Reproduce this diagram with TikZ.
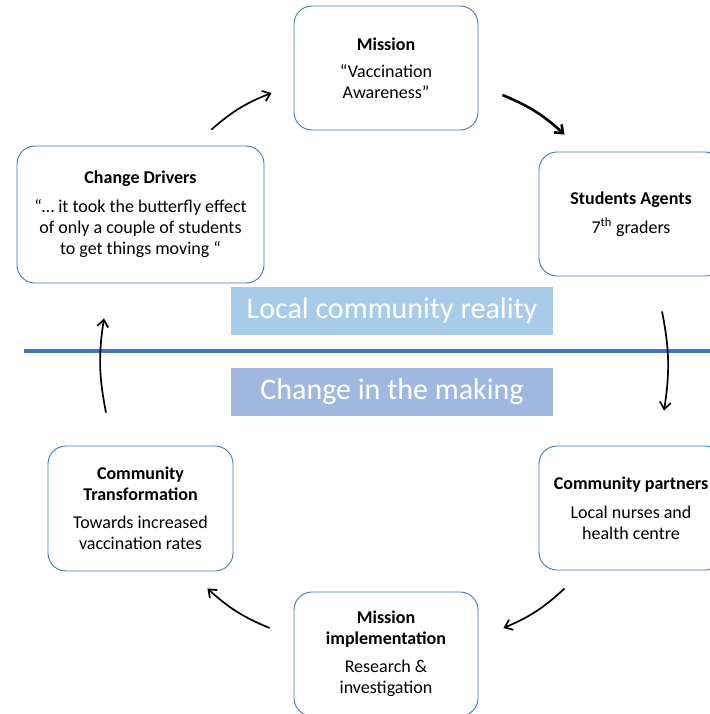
\documentclass[tikz,border=0pt]{standalone}
\usepackage{fontspec}
\setmainfont{Carlito}
\usetikzlibrary{arrows.meta}

\definecolor{boxblue}{HTML}{4472C4}
\definecolor{realityblue}{HTML}{A8CBEA}
\definecolor{makingblue}{HTML}{A0B8E0}

\tikzset{
	stagebox/.style={draw=boxblue, line width=0.9pt, rounded corners=18pt,
		align=center, font=\fontsize{18}{21}\selectfont, inner sep=0pt},
	band/.style={fill=#1, text=white, minimum width=322pt, minimum height=48pt,
		inner sep=0pt, font=\fontsize{30}{34}\selectfont},
	cyclearrow/.style={-{Straight Barb[length=7pt,width=11pt]}, line width=1.7pt, bend left=10}
}

\begin{document}
\begin{tikzpicture}[x=1pt, y=-1pt]
		\useasboundingbox (0,0) rectangle (709,714);
		% stages of the cycle
		\node[stagebox, minimum width=184pt, minimum height=124pt] (mission) at (386,68)
			{\textbf{Mission}\\[6pt]“Vaccination\\Awareness”};
		\node[stagebox, minimum width=247pt, minimum height=137pt] (drivers) at (140.5,214.5)
			{\textbf{Change Drivers}\\[8pt]“… it took the butterfly effect\\of only a couple of students\\to get things moving “};
		\node[stagebox, minimum width=184pt, minimum height=124pt] (students) at (631,214)
			{\textbf{Students Agents}\\[8pt]7\textsuperscript{th} graders};
		\node[stagebox, minimum width=184pt, minimum height=124pt] (partners) at (631,508)
			{\textbf{Community partners}\\[8pt]Local nurses and\\health centre};
		\node[stagebox, minimum width=184pt, minimum height=124pt] (implementation) at (386,654)
			{\textbf{Mission}\\\textbf{implementation}\\[7pt]Research \&\\investigation};
		\node[stagebox, minimum width=185pt, minimum height=125pt] (transformation) at (140.5,508.5)
			{\textbf{Community}\\\textbf{Transformation}\\[7pt]Towards increased\\vaccination rates};

		% the two realms
		\node[band=realityblue] (reality) at (392,310.5) {Local community reality};
		\node[band=makingblue] (making) at (392,392) {Change in the making};
		\draw[boxblue, line width=4pt] (24,351) -- (720,351);

		% arrows
		\draw[cyclearrow] ([shift={(-53,-16)}]drivers.north east) to ([shift={(-22,25)}]mission.west);
		\draw[cyclearrow, line width=2.6pt] ([shift={(24,27)}]mission.east) to ([shift={(26,-17)}]students.north west);
		\draw[cyclearrow] ([shift={(31,35)}]students.south) to ([shift={(33,-35)}]partners.north);
		\draw[cyclearrow] ([shift={(26,18)}]partners.south west) to ([shift={(25,-26)}]implementation.east);
		\draw[cyclearrow] ([shift={(-24,-26)}]implementation.west) to ([shift={(-26,17)}]transformation.south east);
		\draw[cyclearrow] ([shift={(-34.5,-33)}]transformation.north) to ([shift={(-36.5,35)}]drivers.south);
	\end{tikzpicture}
\end{document}
